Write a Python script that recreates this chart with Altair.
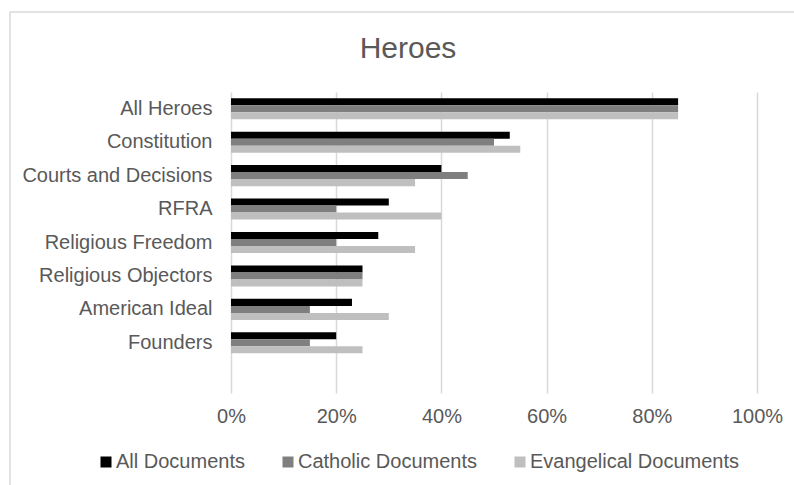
import altair as alt
import pandas as pd

categories = ["All Heroes", "Constitution", "Courts and Decisions", "RFRA",
              "Religious Freedom", "Religious Objectors", "American Ideal", "Founders"]
series = ["All Documents", "Catholic Documents", "Evangelical Documents"]
all_docs = [0.85, 0.53, 0.40, 0.30, 0.28, 0.25, 0.23, 0.20]
catholic = [0.85, 0.50, 0.45, 0.20, 0.20, 0.25, 0.15, 0.15]
evangelical = [0.85, 0.55, 0.35, 0.40, 0.35, 0.25, 0.30, 0.25]
colors = ["#000000", "#7f7f7f", "#bfbfbf"]
x_ticks = [0, 0.2, 0.4, 0.6, 0.8, 1.0]

rows = []
for s, vals in zip(series, [all_docs, catholic, evangelical]):
    for c, v in zip(categories, vals):
        rows.append({"category": c, "series": s, "value": v})
df = pd.DataFrame(rows)

text_color = "#595959"
# one empty slot below the last category, as in the original plot area
y_domain = categories + [" "]

frame = alt.Chart(pd.DataFrame({"a": [0]})).mark_rect(
    fill=None, stroke="#d9d9d9", strokeWidth=1.5
).encode(
    x=alt.value(-221), x2=alt.value(580),
    y=alt.value(-80), y2=alt.value(410),
)

bars = alt.Chart(df).mark_bar().encode(
    x=alt.X("value:Q",
            scale=alt.Scale(domain=[0, 1], nice=False),
            axis=alt.Axis(format="%", values=x_ticks, title=None, grid=True,
                          gridColor="#d9d9d9", gridWidth=1.5, domain=False,
                          ticks=False, tickSize=0, labelPadding=13,
                          labelFlush=False,
                          labelFontSize=20, labelColor=text_color,
                          labelFont="Liberation Sans")),
    y=alt.Y("category:N",
            scale=alt.Scale(domain=y_domain, paddingInner=0.37, paddingOuter=0.185),
            axis=alt.Axis(title=None, domain=False, ticks=False, tickSize=0,
                          labelPadding=19, labelFontSize=20, labelColor=text_color,
                          labelFont="Liberation Sans", labelLimit=400)),
    yOffset=alt.YOffset("series:N", sort=series),
    color=alt.Color("series:N", sort=series,
                    scale=alt.Scale(domain=series, range=colors),
                    legend=alt.Legend(title=None, orient="none", direction="horizontal",
                                      legendX=-135, legendY=360,
                                      symbolType="square", symbolSize=121,
                                      symbolStrokeWidth=0,
                                      labelFontSize=20, labelColor=text_color,
                                      labelFont="Liberation Sans", labelOffset=0,
                                      columnPadding=33, labelLimit=400)),
)

chart = alt.layer(frame, bars).properties(
    width=526, height=301,
    background="white",
    title=alt.TitleParams("Heroes", fontSize=30, font="Liberation Sans",
                          fontWeight="normal", color=text_color,
                          anchor="middle", dx=-86, dy=80, offset=27),
    autosize=alt.AutoSizeParams(type="none"),
    padding={"left": 231, "top": 92, "right": 37, "bottom": 92},
).configure_view(stroke=None)

chart.save("out.html", embed_options={"renderer": "svg", "actions": False})
